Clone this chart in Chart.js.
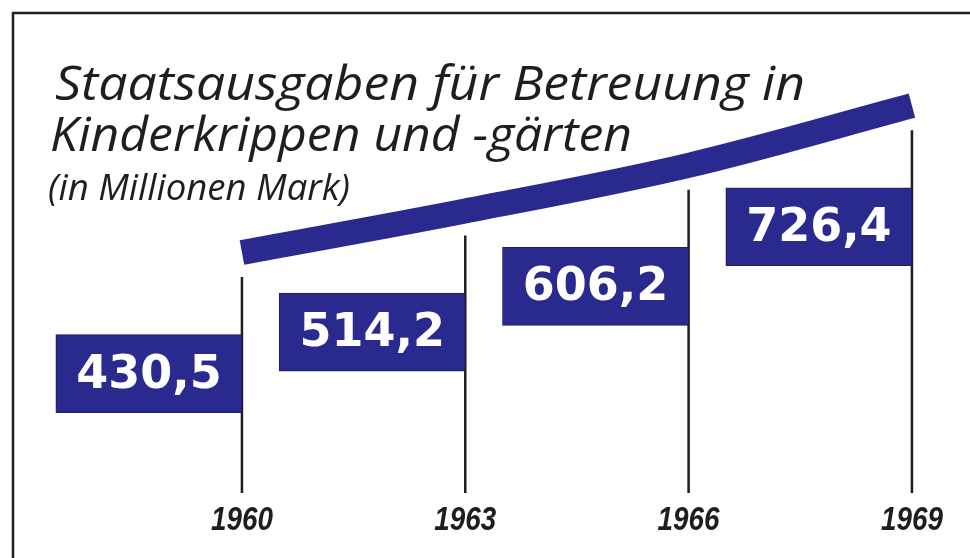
<!DOCTYPE html>
<html>
<head>
<meta charset="utf-8">
<script src="https://cdn.jsdelivr.net/npm/chart.js@4"></script>
<style>
  html, body { margin: 0; padding: 0; background: #fff; }
  #wrap { width: 970px; height: 558px; position: relative; }
</style>
</head>
<body>
<div id="wrap"><canvas id="myChart"></canvas></div>
<script>
const years = [1960, 1963, 1966, 1969];
const yearLabels = ['1960', '1963', '1966', '1969'];
const spending = [430.5, 514.2, 606.2, 726.4];
const titleLines = ['Staatsausgaben für Betreuung in', 'Kinderkrippen und -gärten'];
const subtitle = '(in Millionen Mark)';

const navy = '#2a2a8e';
const ink = '#1e1e1e';
const flagYears = 2.5; // how far each value box reaches left of its year line
const bandWidth = 25;

const fmt = v => v.toFixed(1).replace('.', ',');

// draws a text squeezed/stretched to a given width
function fitText(ctx, text, x, y, width, font, align) {
	ctx.font = font;
	const w = ctx.measureText(text).width;
	ctx.save();
	ctx.translate(align === 'center' ? x - width / 2 : x, y);
	ctx.scale(width / w, 1);
	ctx.fillText(text, 0, 0);
	ctx.restore();
}

const decor = {
	id: 'decor',
	beforeDraw(chart) {
		const ctx = chart.ctx;
		ctx.save();
		ctx.fillStyle = '#fff';
		ctx.fillRect(0, 0, chart.width, chart.height);

		// frame
		ctx.strokeStyle = ink;
		ctx.lineWidth = 2.5;
		ctx.beginPath();
		ctx.moveTo(13, chart.height);
		ctx.lineTo(13, 13);
		ctx.lineTo(chart.width, 13);
		ctx.stroke();

		// title
		ctx.fillStyle = ink;
		ctx.textBaseline = 'alphabetic';
		fitText(ctx, titleLines[0], 55, 100, 750, "italic 400 48px 'Open Sans'");
		fitText(ctx, titleLines[1], 50, 151, 582, "italic 400 48px 'Open Sans'");
		fitText(ctx, subtitle, 48, 200, 302, "italic 400 36px 'Open Sans'");

		// year lines, from just under the band down to the axis, and the year labels
		const x = chart.scales.x;
		const y2 = chart.scales.y2;
		ctx.lineWidth = 2.5;
		years.forEach((yr, i) => {
			const px = x.getPixelForValue(yr);
			const top = y2.getPixelForValue(spending[i]) + bandWidth / 2 + 12;
			ctx.beginPath();
			ctx.moveTo(px, top);
			ctx.lineTo(px, chart.chartArea.bottom);
			ctx.stroke();
			fitText(ctx, yearLabels[i], px, chart.chartArea.bottom + 37, 62, "italic bold 34px 'Liberation Sans'", 'center');
		});
		ctx.restore();
	},
	afterDatasetsDraw(chart) {
		const ctx = chart.ctx;
		const meta = chart.getDatasetMeta(0);
		ctx.save();
		ctx.fillStyle = '#fff';
		ctx.font = "bold 46px 'DejaVu Sans'";
		ctx.textAlign = 'center';
		ctx.textBaseline = 'middle';
		meta.data.forEach((bar, i) => {
			const p = bar.getProps(['x', 'y', 'base'], true);
			ctx.fillText(fmt(spending[i]), (p.x + p.base) / 2, p.y + 2);
		});
		ctx.restore();
	}
};

new Chart('myChart', {
	type: 'bar',
	data: {
		datasets: [
			{
				type: 'bar',
				indexAxis: 'y',
				xAxisID: 'x',
				yAxisID: 'y',
				data: years.map((yr, i) => ({ x: [yr - flagYears, yr], y: spending[i] })),
				backgroundColor: navy,
				borderColor: '#1c1c60',
				borderWidth: 1,
				borderSkipped: false,
				barThickness: 78,
			},
			{
				type: 'line',
				xAxisID: 'x',
				yAxisID: 'y2',
				data: years.map((yr, i) => ({ x: yr, y: spending[i] })),
				borderColor: navy,
				borderWidth: bandWidth,
				borderCapStyle: 'butt',
				tension: 0.35,
				pointRadius: 0,
				fill: false,
				clip: false,
			},
		],
	},
	options: {
		responsive: true,
		maintainAspectRatio: false,
		animation: false,
		layout: { autoPadding: false, padding: { top: 20, bottom: 65, left: 0, right: 0 } },
		plugins: {
			legend: { display: false },
			tooltip: { enabled: false },
		},
		scales: {
			x: {
				type: 'linear',
				display: false,
				offset: false,
				min: 1956.75,
				max: 1969.78,
				afterBuildTicks: axis => {
					axis.ticks = years.map(v => ({ value: v }));
				},
			},
			y: { type: 'linear', display: false, offset: false, min: 190, max: 1143 },
			y2: { type: 'linear', position: 'left', display: false, offset: false, min: -54, max: 899 },
		},
	},
	plugins: [decor],
});
</script>
</body>
</html>
